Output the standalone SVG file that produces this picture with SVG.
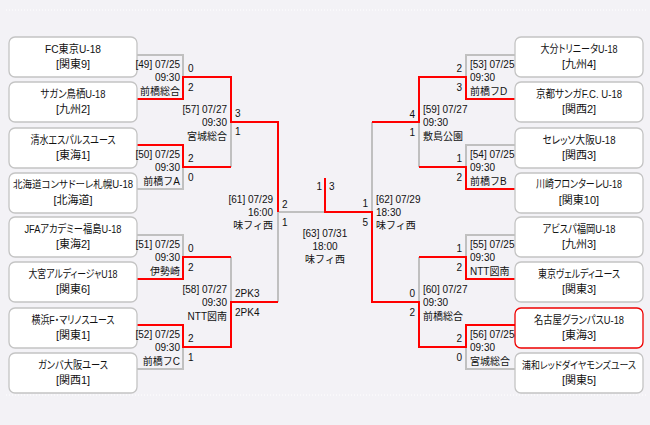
<svg xmlns="http://www.w3.org/2000/svg" width="650" height="425" viewBox="0 0 650 425">
<style>
text{font-family:"Liberation Sans","Noto Sans CJK JP",sans-serif;fill:#111;}
.nm{font-size:11px;text-anchor:middle;font-feature-settings:"palt" 1;}
.sm{font-size:10px;}
.lb{font-size:10px;}
.e{text-anchor:end;}
.box{fill:#fff;stroke:#c4c4c4;stroke-width:1.3;}
.win{fill:#fff;stroke:#ee0000;stroke-width:1.3;}
.g{fill:none;stroke:#c0c0c0;stroke-width:2;}
.r{fill:none;stroke:#ff0000;stroke-width:2;}
.dot{stroke:#fff;stroke-width:1;stroke-dasharray:1 2;}
</style>
<rect x="0" y="0" width="650" height="425" fill="#f3f2f6"/>
<line class="dot" x1="6" y1="10" x2="646" y2="10"/>
<line class="dot" x1="6" y1="395" x2="646" y2="395"/>

<g id="connectors">
<path class="g" d="M137,55H183V77"/>
<path class="g" d="M137,189H183V167"/>
<path class="g" d="M137,235H183V257"/>
<path class="g" d="M137,369H183V347"/>
<path class="g" d="M231,122V167"/>
<path class="g" d="M231,257V302"/>
<path class="g" d="M278,212V302"/>
<path class="g" d="M278,212H325"/>
<path class="g" d="M515,55H466V77"/>
<path class="g" d="M515,145H466V167"/>
<path class="g" d="M515,235H466V257"/>
<path class="g" d="M515,369H466V347"/>
<path class="g" d="M419,122V167"/>
<path class="g" d="M419,257V302"/>
<path class="g" d="M372,122V212"/>
<path class="r" d="M137,99H183V77H231V122H278V212"/>
<path class="r" d="M137,145H183V167H231"/>
<path class="r" d="M137,279H183V257H231"/>
<path class="r" d="M137,325H183V347H231V302H278"/>
<path class="r" d="M515,99H466V77H419V122H372"/>
<path class="r" d="M515,189H466V167H419"/>
<path class="r" d="M515,279H466V257H419"/>
<path class="r" d="M515,325H466V347H419V302H372V212H325V178"/>
</g>

<g id="team-L1"><rect class="box" x="9" y="37" width="128" height="40" rx="6"/><text class="nm" x="73" y="53" textLength="56" lengthAdjust="spacingAndGlyphs">FC東京U-18</text><text class="nm" x="73" y="68">[関東9]</text></g>
<g id="team-L2"><rect class="box" x="9" y="82" width="128" height="40" rx="6"/><text class="nm" x="73" y="98" textLength="65" lengthAdjust="spacingAndGlyphs">サガン鳥栖U-18</text><text class="nm" x="73" y="113">[九州2]</text></g>
<g id="team-L3"><rect class="box" x="9" y="128" width="128" height="40" rx="6"/><text class="nm" x="73" y="144" textLength="85" lengthAdjust="spacingAndGlyphs">清水エスパルスユース</text><text class="nm" x="73" y="159">[東海1]</text></g>
<g id="team-L4"><rect class="box" x="9" y="173" width="128" height="40" rx="6"/><text class="nm sm" x="73" y="188" textLength="120" lengthAdjust="spacingAndGlyphs">北海道コンサドーレ札幌U-18</text><text class="nm" x="73" y="204">[北海道]</text></g>
<g id="team-L5"><rect class="box" x="9" y="217" width="128" height="40" rx="6"/><text class="nm" x="73" y="233" textLength="97" lengthAdjust="spacingAndGlyphs">JFAアカデミー福島U-18</text><text class="nm" x="73" y="248">[東海2]</text></g>
<g id="team-L6"><rect class="box" x="9" y="262" width="128" height="40" rx="6"/><text class="nm" x="73" y="278" textLength="89" lengthAdjust="spacingAndGlyphs">大宮アルディージャU18</text><text class="nm" x="73" y="293">[関東6]</text></g>
<g id="team-L7"><rect class="box" x="9" y="308" width="128" height="40" rx="6"/><text class="nm" x="73" y="324" textLength="83" lengthAdjust="spacingAndGlyphs">横浜F・マリノスユース</text><text class="nm" x="73" y="339">[関東1]</text></g>
<g id="team-L8"><rect class="box" x="9" y="353" width="128" height="40" rx="6"/><text class="nm" x="73" y="369" textLength="70" lengthAdjust="spacingAndGlyphs">ガンバ大阪ユース</text><text class="nm" x="73" y="384">[関西1]</text></g>

<g id="team-R1"><rect class="box" x="515" y="37" width="128" height="40" rx="6"/><text class="nm" x="579" y="53" textLength="77" lengthAdjust="spacingAndGlyphs">大分トリニータU-18</text><text class="nm" x="579" y="68">[九州4]</text></g>
<g id="team-R2"><rect class="box" x="515" y="82" width="128" height="40" rx="6"/><text class="nm" x="579" y="98" textLength="86" lengthAdjust="spacingAndGlyphs">京都サンガF.C. U-18</text><text class="nm" x="579" y="113">[関西2]</text></g>
<g id="team-R3"><rect class="box" x="515" y="128" width="128" height="40" rx="6"/><text class="nm" x="579" y="144" textLength="73" lengthAdjust="spacingAndGlyphs">セレッソ大阪U-18</text><text class="nm" x="579" y="159">[関西3]</text></g>
<g id="team-R4"><rect class="box" x="515" y="173" width="128" height="40" rx="6"/><text class="nm" x="579" y="188" textLength="86" lengthAdjust="spacingAndGlyphs">川崎フロンターレU-18</text><text class="nm" x="579" y="204">[関東10]</text></g>
<g id="team-R5"><rect class="box" x="515" y="217" width="128" height="40" rx="6"/><text class="nm" x="579" y="233" textLength="73" lengthAdjust="spacingAndGlyphs">アビスパ福岡U-18</text><text class="nm" x="579" y="248">[九州3]</text></g>
<g id="team-R6"><rect class="box" x="515" y="262" width="128" height="40" rx="6"/><text class="nm" x="579" y="278" textLength="82" lengthAdjust="spacingAndGlyphs">東京ヴェルディユース</text><text class="nm" x="579" y="293">[関東3]</text></g>
<g id="team-R7"><rect class="win" x="515" y="308" width="128" height="40" rx="6"/><text class="nm" x="579" y="324" textLength="90" lengthAdjust="spacingAndGlyphs">名古屋グランパスU-18</text><text class="nm" x="579" y="339">[東海3]</text></g>
<g id="team-R8"><rect class="box" x="515" y="353" width="128" height="40" rx="6"/><text class="nm sm" x="579" y="369" textLength="114" lengthAdjust="spacingAndGlyphs">浦和レッドダイヤモンズユース</text><text class="nm" x="579" y="384">[関東5]</text></g>

<g id="match-labels" class="lb">
<g id="m49"><text class="e" x="180" y="68">[49] 07/25</text><text class="e" x="180" y="81">09:30</text><text class="e" x="180" y="95">前橋総合</text><text x="188" y="72">0</text><text x="188" y="91">2</text></g>
<g id="m50"><text class="e" x="180" y="158">[50] 07/25</text><text class="e" x="180" y="171">09:30</text><text class="e" x="180" y="185">前橋フA</text><text x="188" y="162">2</text><text x="188" y="181">0</text></g>
<g id="m51"><text class="e" x="180" y="248">[51] 07/25</text><text class="e" x="180" y="261">09:30</text><text class="e" x="180" y="275">伊勢崎</text><text x="188" y="252">0</text><text x="188" y="271">2</text></g>
<g id="m52"><text class="e" x="180" y="338">[52] 07/25</text><text class="e" x="180" y="351">09:30</text><text class="e" x="180" y="365">前橋フC</text><text x="188" y="342">2</text><text x="188" y="361">1</text></g>
<g id="m57"><text class="e" x="227" y="113">[57] 07/27</text><text class="e" x="227" y="126">09:30</text><text class="e" x="227" y="140">宮城総合</text><text x="235" y="117">3</text><text x="235" y="135">1</text></g>
<g id="m58"><text class="e" x="227" y="293">[58] 07/27</text><text class="e" x="227" y="306">09:30</text><text class="e" x="227" y="320">NTT図南</text><text x="235" y="297">2PK3</text><text x="235" y="316">2PK4</text></g>
<g id="m61"><text class="e" x="273" y="203">[61] 07/29</text><text class="e" x="273" y="216">16:00</text><text class="e" x="273" y="229">味フィ西</text><text x="282" y="208">2</text><text x="282" y="226">1</text></g>
<g id="m53"><text x="470" y="68">[53] 07/25</text><text x="470" y="81">09:30</text><text x="470" y="95">前橋フD</text><text class="e" x="462" y="72">2</text><text class="e" x="462" y="91">3</text></g>
<g id="m54"><text x="470" y="158">[54] 07/25</text><text x="470" y="171">09:30</text><text x="470" y="185">前橋フB</text><text class="e" x="462" y="162">1</text><text class="e" x="462" y="181">2</text></g>
<g id="m55"><text x="470" y="248">[55] 07/25</text><text x="470" y="261">09:30</text><text x="470" y="275">NTT図南</text><text class="e" x="462" y="252">1</text><text class="e" x="462" y="271">2</text></g>
<g id="m56"><text x="470" y="338">[56] 07/25</text><text x="470" y="351">09:30</text><text x="470" y="365">宮城総合</text><text class="e" x="462" y="342">2</text><text class="e" x="462" y="361">0</text></g>
<g id="m59"><text x="423" y="113">[59] 07/27</text><text x="423" y="126">09:30</text><text x="423" y="140">敷島公園</text><text class="e" x="415" y="118">4</text><text class="e" x="415" y="136">1</text></g>
<g id="m60"><text x="423" y="293">[60] 07/27</text><text x="423" y="306">09:30</text><text x="423" y="320">前橋総合</text><text class="e" x="415" y="297">0</text><text class="e" x="415" y="316">2</text></g>
<g id="m62"><text x="376" y="203">[62] 07/29</text><text x="376" y="216">18:30</text><text x="376" y="229">味フィ西</text><text class="e" x="368" y="207">1</text><text class="e" x="368" y="226">5</text></g>
<g id="m63"><text x="325" y="237" text-anchor="middle">[63] 07/31</text><text x="325" y="250" text-anchor="middle">18:00</text><text x="325" y="263" text-anchor="middle">味フィ西</text><text class="e" x="322" y="190">1</text><text x="329" y="190">3</text></g>
</g>
</svg>
